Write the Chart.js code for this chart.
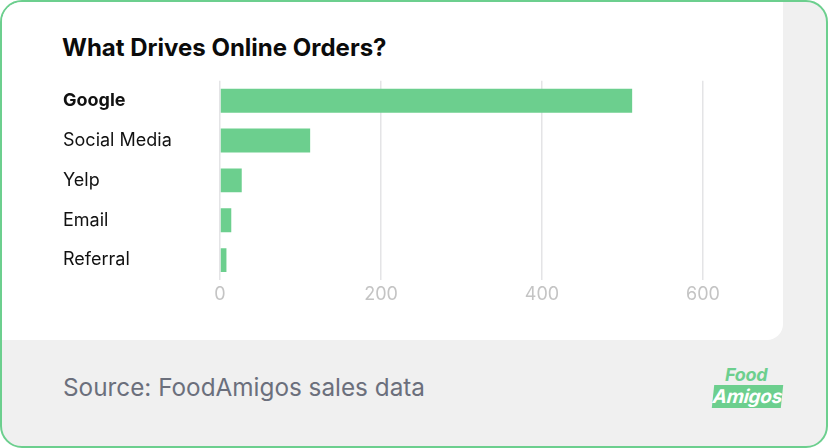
<!DOCTYPE html>
<html>
<head>
<meta charset="utf-8">
<script src="https://cdn.jsdelivr.net/npm/chart.js@4"></script>
<style>
  html, body { margin: 0; padding: 0; }
  body { width: 828px; height: 448px; overflow: hidden; font-family: Inter, "Noto Sans", sans-serif; }
  #frame {
    position: absolute; left: 0; top: 0; width: 824px; height: 444px;
    border: 2px solid #6ccf8e; border-radius: 22px; background: #f0f0f0; overflow: hidden;
  }
  #card {
    position: absolute; left: 0; top: 0; width: 781px; height: 338px;
    background: #fff; border-bottom-right-radius: 16px;
  }
  #title {
    position: absolute; left: 62px; top: 33px; font-size: 24px; font-weight: 700;
    color: #0b0b0b; letter-spacing: 0px;
  }
  #chartBox { position: absolute; left: 63px; top: 67px; width: 680px; height: 245px; }
  #source {
    position: absolute; left: 63px; top: 372px; font-size: 24.3px; color: #6b6f7c;
  }
  #logo { position: absolute; left: 708px; top: 364px; width: 80px; height: 48px; }
  #logo .food {
    position: absolute; left: 17px; top: 0; font-size: 18px; font-weight: 700; font-style: italic;
    color: #6ccf8e; letter-spacing: -0.3px;
  }
  #logo .amigos {
    position: absolute; left: 5px; top: 21px; width: 69px; height: 23px; background: #6ccf8e;
    transform: skewX(-6deg); color: #fff; font-size: 19px; font-weight: 700; font-style: italic;
    line-height: 23px; text-align: center; letter-spacing: -0.3px;
  }
</style>
</head>
<body>
<div id="frame">
  <div id="card"></div>
</div>
<div id="title">What Drives Online Orders?</div>
<div id="chartBox"><canvas id="ordersChart"></canvas></div>
<div id="source">Source: FoodAmigos sales data</div>
<div id="logo"><div class="food">Food</div><div class="amigos">Amigos</div></div>

<script>
// chart data
var channels = ["Google", "Social Media", "Yelp", "Email", "Referral"];
var orders = [512, 112, 27, 14, 8];
var xTicks = [0, 200, 400, 600];

var ctx = document.getElementById("ordersChart");

var ordersChart = new Chart(ctx, {
    type: 'bar',
    data: {
        labels: channels,
        datasets: [
            {
                label: "orders",
                backgroundColor: "#6ccf8e",
                borderWidth: 0,
                barPercentage: 0.6,
                categoryPercentage: 1,
                data: orders
            }
        ]
    },
    options: {
        indexAxis: 'y',
        responsive: true,
        maintainAspectRatio: false,
        animation: false,
        layout: { padding: { top: 9, right: 40, bottom: 0, left: 0 } },
        plugins: {
            legend: { display: false },
            tooltip: { enabled: false }
        },
        scales: {
            x: {
                min: 0,
                max: 600,
                afterBuildTicks: function (axis) {
                    axis.ticks = xTicks.map(function (v) { return { value: v }; });
                },
                afterFit: function (axis) { axis.height = 32; },
                border: { display: false },
                grid: { color: "#e4e4e6", lineWidth: 1.5, drawTicks: false },
                ticks: {
                    padding: 4,
                    color: "#c4c4c4",
                    font: { family: "Inter", size: 18 }
                }
            },
            y: {
                afterFit: function (axis) { axis.width = 157; },
                border: { display: false },
                grid: { display: false },
                ticks: {
                    crossAlign: 'far',
                    color: "#111111",
                    font: function (c) {
                        return { family: "Inter", size: 18, weight: c.index === 0 ? 'bold' : 'normal' };
                    }
                }
            }
        }
    }
});
</script>
</body>
</html>
